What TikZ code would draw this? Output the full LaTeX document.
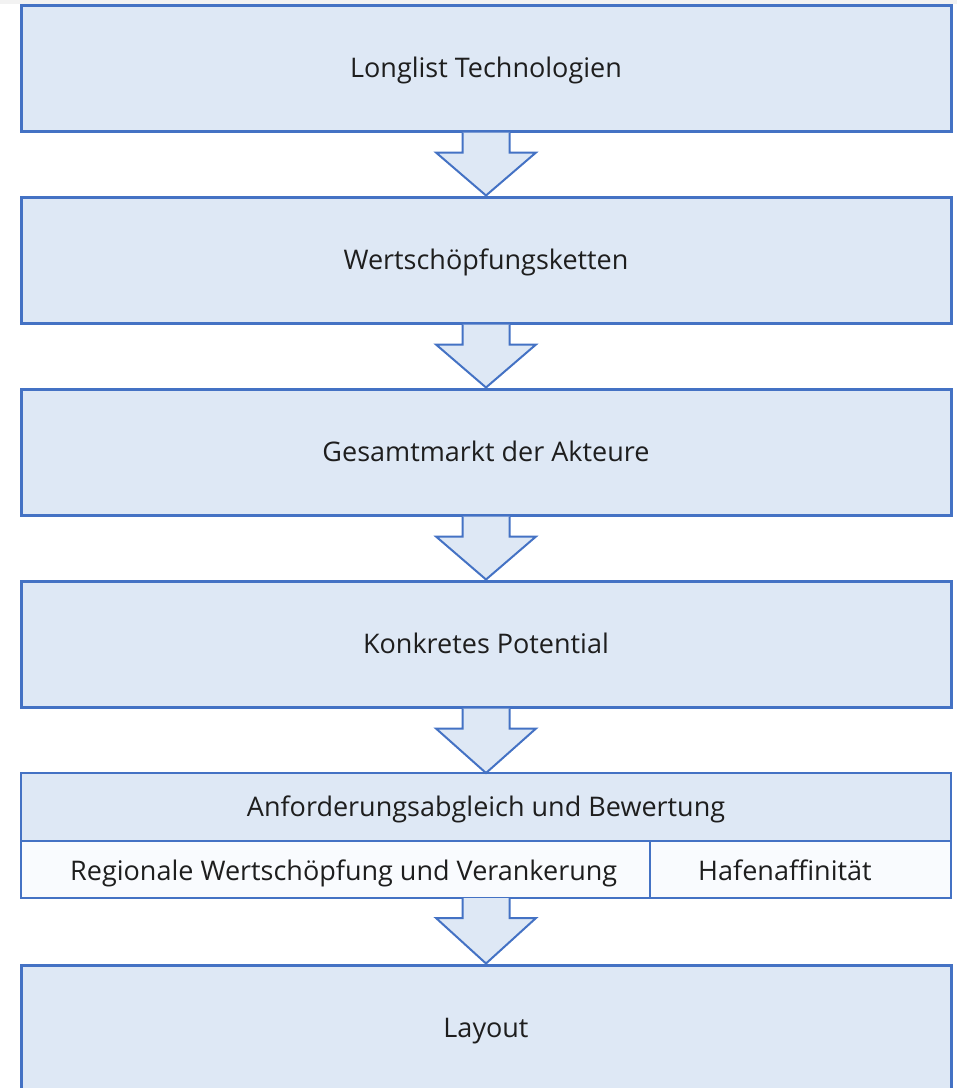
\documentclass[tikz,border=0pt]{standalone}
\usepackage{fontspec}
\setmainfont{Open Sans}
\usetikzlibrary{calc}
\definecolor{blueline}{HTML}{4472C4}
\definecolor{boxfill}{HTML}{DEE8F5}
\definecolor{rowfill}{HTML}{F9FBFE}
\definecolor{topgray}{HTML}{F2F2F2}
\definecolor{txt}{HTML}{1E1E1E}
\tikzset{
  stepbox/.style={draw=blueline, line width=3pt, fill=boxfill, minimum width=930pt, minimum height=126pt, inner sep=0pt, text=txt, font=\fontsize{27}{31}\selectfont, text height=19pt, text depth=0pt},
  flowarrow/.style={draw=blueline, fill=boxfill, line width=2pt, line join=miter},
  celltext/.style={text=txt, font=\fontsize{27}{31}\selectfont, inner sep=0pt},
}
\begin{document}
\begin{tikzpicture}[x=1pt,y=-1pt]
\useasboundingbox (0,0) rectangle (957,1088);
\fill[topgray] (0,0) rectangle (957,4);
% boxes
\node[stepbox] (b1) at (486,68) {Longlist Technologien};
\node[stepbox] (b2) at (486,260) {Wertschöpfungsketten};
\node[stepbox] (b3) at (486,452) {Gesamtmarkt der Akteure};
\node[stepbox] (b4) at (486,644) {Konkretes Potential};
% table
\coordinate (tnw) at (21,773);
\coordinate (tse) at (951,898);
\fill[boxfill] (21,773) rectangle (951,841);
\fill[rowfill] (21,841) rectangle (951,898);
\node[celltext, anchor=base] (t1) at (486,816) {Anforderungsabgleich und Bewertung};
\node[celltext, anchor=base west] (t2) at (70,880) {Regionale Wertschöpfung und Verankerung};
\node[celltext, anchor=base west] (t3) at (698,880) {Hafenaffinität};
\draw[blueline, line width=1.5pt] (21,841) -- (951,841);
\draw[blueline, line width=1.5pt] (650,841) -- (650,898);
\draw[blueline, line width=2pt] (tnw) rectangle (tse);
\coordinate (b5) at (486,898);
\coordinate (b5top) at (486,773);
\node[stepbox] (b6) at (486,1028) {Layout};
% arrows
\path[flowarrow] ($(b1.south)+(-23.5,0)$) -- ++(0,20) -- ++(-26.5,0) -- (b2.north) -- ($(b1.south)+(50,20)$) -- ++(-26.5,0) -- ++(0,-20);
\path[flowarrow] ($(b2.south)+(-23.5,0)$) -- ++(0,20) -- ++(-26.5,0) -- (b3.north) -- ($(b2.south)+(50,20)$) -- ++(-26.5,0) -- ++(0,-20);
\path[flowarrow] ($(b3.south)+(-23.5,0)$) -- ++(0,20) -- ++(-26.5,0) -- (b4.north) -- ($(b3.south)+(50,20)$) -- ++(-26.5,0) -- ++(0,-20);
\path[flowarrow] ($(b4.south)+(-23.5,0)$) -- ++(0,20) -- ++(-26.5,0) -- (b5top) -- ($(b4.south)+(50,20)$) -- ++(-26.5,0) -- ++(0,-20);
\path[flowarrow] ($(b5)+(-23.5,0)$) -- ++(0,20) -- ++(-26.5,0) -- (b6.north) -- ($(b5)+(50,20)$) -- ++(-26.5,0) -- ++(0,-20);
\end{tikzpicture}
\end{document}
